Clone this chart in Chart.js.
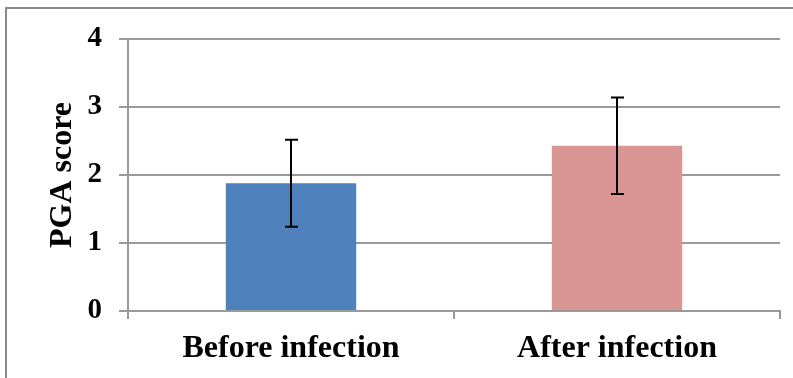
<!DOCTYPE html>
<html>
<head>
<meta charset="utf-8">
<script src="https://cdn.jsdelivr.net/npm/chart.js@4.4.0/dist/chart.umd.min.js"></script>
<style>
  html, body { margin: 0; padding: 0; background: #fff; }
  #wrap { width: 793px; height: 378px; position: relative; }
</style>
</head>
<body>
<div id="wrap"><canvas id="pgaChart" width="793" height="378"></canvas></div>
<script>
// data
var categories = ['Before infection', 'After infection'];
var pgaMean = [1.88, 2.43];
var pgaSd = [0.64, 0.71];
var barColors = ['#4F81BD', '#D99694'];
var yTicks = [0, 1, 2, 3, 4];

// frame around the figure (only top and left edges are visible)
var frame = {
  id: 'frame',
  beforeDraw: function (chart) {
    var c = chart.ctx;
    c.save();
    c.strokeStyle = '#8a8a8a';
    c.lineWidth = 2;
    c.beginPath();
    c.moveTo(6, 400);
    c.lineTo(6, 8);
    c.lineTo(800, 8);
    c.stroke();
    c.restore();
  }
};

// error bars: mean +/- sd, drawn through the y scale
var errorBars = {
  id: 'errorBars',
  afterDatasetsDraw: function (chart) {
    var c = chart.ctx;
    var y = chart.scales.y;
    var meta = chart.getDatasetMeta(0);
    c.save();
    c.strokeStyle = '#000';
    c.lineWidth = 2;
    meta.data.forEach(function (bar, i) {
      var x = Math.round(bar.x);
      var top = y.getPixelForValue(pgaMean[i] + pgaSd[i]);
      var bot = y.getPixelForValue(pgaMean[i] - pgaSd[i]);
      c.beginPath();
      c.moveTo(x, top); c.lineTo(x, bot);
      c.moveTo(x - 6, top); c.lineTo(x + 7, top);
      c.moveTo(x - 6, bot); c.lineTo(x + 7, bot);
      c.stroke();
    });
    c.restore();
  }
};

var ctx = document.getElementById('pgaChart').getContext('2d');
var chart = new Chart(ctx, {
  type: 'bar',
  data: {
    labels: categories,
    datasets: [{
      data: pgaMean,
      backgroundColor: barColors,
      borderWidth: 0,
      categoryPercentage: 1.0,
      barPercentage: 0.4
    }]
  },
  options: {
    responsive: false,
    animation: false,
    events: [],
    layout: { padding: { top: 39, right: 13, bottom: 0, left: 0 } },
    plugins: {
      legend: { display: false },
      tooltip: { enabled: false }
    },
    scales: {
      x: {
        grid: {
          offset: true,
          drawOnChartArea: false,
          drawTicks: true,
          tickLength: 8,
          color: '#999999',
          lineWidth: 2
        },
        border: { color: '#999999', width: 2 },
        ticks: {
          color: '#000',
          padding: 11,
          font: { family: '"Liberation Serif", "Times New Roman", serif', size: 32, weight: 'bold' }
        },
        afterFit: function (scale) { scale.height = 67; }
      },
      y: {
        min: 0,
        max: 4,
        afterBuildTicks: function (scale) {
          scale.ticks = yTicks.map(function (v) { return { value: v }; });
        },
        grid: {
          color: '#999999',
          lineWidth: 2,
          drawTicks: true,
          tickLength: 9
        },
        border: { color: '#999999', width: 2 },
        ticks: {
          color: '#000',
          padding: 17,
          font: { family: '"Liberation Serif", "Times New Roman", serif', size: 29, weight: 'bold' }
        },
        title: {
          display: true,
          text: 'PGA score',
          color: '#000',
          padding: { top: 44, bottom: 0 },
          font: { family: '"Liberation Serif", "Times New Roman", serif', size: 32, weight: 'bold' }
        },
        afterFit: function (scale) { scale.width = 128; }
      }
    }
  },
  plugins: [frame, errorBars]
});
</script>
</body>
</html>
